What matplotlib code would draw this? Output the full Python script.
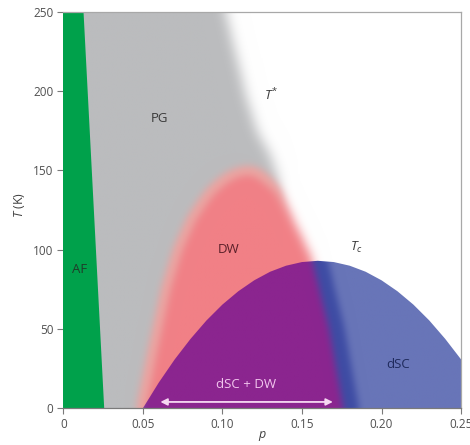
import numpy as np
import matplotlib
matplotlib.use("Agg")
import matplotlib.pyplot as plt
from matplotlib.path import Path
from matplotlib.patches import Polygon

plt.rcParams['font.family'] = ['Open Sans', 'DejaVu Sans']
plt.rcParams['mathtext.fontset'] = 'custom'
plt.rcParams['mathtext.it'] = 'Open Sans:italic'
plt.rcParams['mathtext.rm'] = 'Open Sans'

# ---------------- data ----------------
# AF boundary (straight line)
af_T = [0, 250]
af_p = [0.0254, 0.0124]

# T* crossover (pseudogap edge), from top to bottom
tstar_T = [250, 194, 173, 160, 145, 130, 0]
tstar_p = [0.102, 0.1157, 0.1225, 0.130, 0.135, 0.136, 0.136]

# density-wave dome, left edge (bottom -> top) and right edge (top -> bottom)
dw_left_T = [0, 40, 75, 100, 120, 136, 144, 148, 150]
dw_left_p = [0.049, 0.057, 0.0645, 0.072, 0.081, 0.092, 0.101, 0.108, 0.116]
dw_right_T = [148, 144, 137, 110, 95, 50, 0]
dw_right_p = [0.123, 0.128, 0.136, 0.149, 0.156, 0.167, 0.176]

# superconducting dome Tc(p)
tc_p = [0.05, 0.06, 0.07, 0.08, 0.09, 0.10, 0.11, 0.12, 0.13, 0.14, 0.15,
        0.16, 0.17, 0.18, 0.19, 0.20, 0.21, 0.22, 0.23, 0.24, 0.25]
tc_T = [0, 16.2, 30.8, 43.8, 55.4, 65.4, 73.8, 80.7, 86.1, 89.9, 92.2,
        93, 92.2, 89.9, 86.1, 80.7, 73.8, 65.4, 55.4, 43.8, 30.8]

x_ticks = [0, 0.05, 0.10, 0.15, 0.20, 0.25]
x_labels = ['0', '0.05', '0.10', '0.15', '0.20', '0.25']
y_ticks = [0, 50, 100, 150, 200, 250]
y_labels = ['0', '50', '100', '150', '200', '250']

labels = [("AF", 0.0102, 87.8), ("PG", 0.0603, 183), ("DW", 0.1042, 100),
          ("dSC", 0.2102, 27.3)]
label_colors = ["#1f3d2a", "#3a3a3a", "#5a2029", "#1f2a5c"]

arrow_p = [0.061, 0.1694]
arrow_T = 4

# ---------------- colours ----------------
c_white = np.array([1.0, 1.0, 1.0])
c_gray = np.array([187, 188, 190]) / 255
c_red = np.array([241, 128, 134]) / 255
c_hi = np.array([250, 168, 160]) / 255
c_purple = np.array([139, 37, 143]) / 255
c_dark = np.array([62, 76, 164]) / 255
c_blue = np.array([104, 117, 184]) / 255
c_green = '#00a14b'

# ---------------- raster helpers ----------------
P0, P1, T0, T1 = -0.03, 0.28, -30.0, 280.0
NX, NY = 480, 480
pp = np.linspace(P0, P1, NX)
tt = np.linspace(T0, T1, NY)
PP, TT = np.meshgrid(pp, tt)
pts = np.column_stack([PP.ravel(), TT.ravel()])


def mask_of(verts):
    return Path(verts).contains_points(pts).reshape(NY, NX).astype(float)


def blur(a, s):
    r = int(3 * s) + 1
    x = np.arange(-r, r + 1)
    k = np.exp(-x ** 2 / (2 * s * s))
    k /= k.sum()
    a = np.apply_along_axis(lambda v: np.convolve(v, k, mode='same'), 0, a)
    a = np.apply_along_axis(lambda v: np.convolve(v, k, mode='same'), 1, a)
    return a


# gray (pseudogap) region
g_verts = ([(-0.1, 400), (tstar_p[0], 400)] +
           list(zip(tstar_p, tstar_T)) +
           [(tstar_p[-1], -100), (-0.1, -100)])
g = blur(mask_of(g_verts), 6.0)


def dw_verts(shift=0.0):
    left = list(zip(dw_left_p, dw_left_T))
    right = [(p + shift, t) for p, t in zip(dw_right_p, dw_right_T)]
    return ([(dw_left_p[0], -100)] + left + right +
            [(dw_right_p[-1] + shift, -100)])


r = blur(mask_of(dw_verts()), 5.0)

img = np.ones((NY, NX, 3)) * c_white
img = img * (1 - g[..., None]) + c_gray * g[..., None]
img = img * (1 - r[..., None]) + c_red * r[..., None]
h = np.clip(4 * r * (1 - r) * g * 0.5, 0, 1)
img = img * (1 - h[..., None]) + c_hi * h[..., None]

# superconducting dome colouring
r1 = blur(mask_of(dw_verts()), 3.5)
r2 = blur(mask_of(dw_verts(0.010)), 3.5)
r2 = np.maximum(r2, r1)
sc = (c_purple * r1[..., None] + c_dark * (r2 - r1)[..., None] +
      c_blue * (1 - r2)[..., None])

# ---------------- figure ----------------
fig = plt.figure(figsize=(4.7, 4.45), dpi=100)
ax = fig.add_axes([0.1347, 0.0825, 0.8463, 0.891])

ax.imshow(np.clip(img, 0, 1), extent=[P0, P1, T0, T1], origin='lower',
          aspect='auto', interpolation='bilinear', zorder=1)

im_sc = ax.imshow(np.clip(sc, 0, 1), extent=[P0, P1, T0, T1], origin='lower',
                  aspect='auto', interpolation='bilinear', zorder=2)
dome = Polygon(np.column_stack([np.r_[tc_p, tc_p[::-1]],
                                np.r_[tc_T, np.zeros(len(tc_T))]]),
               closed=True, facecolor='none', edgecolor='none',
               transform=ax.transData)
ax.add_patch(dome)
im_sc.set_clip_path(dome)

ax.fill_betweenx(af_T, [-0.01, -0.01], af_p, color=c_green, lw=0, zorder=3)

# labels
for (txt, x, y), col in zip(labels, label_colors):
    ax.text(x, y, txt, ha='center', va='center', fontsize=9.5, color=col,
            zorder=5)
ax.text(0.1306, 197.5, r'$T^{*}$', ha='center', va='center', fontsize=9.5,
        color='#3a3a3a', zorder=5)
ax.text(0.184, 101.7, r'$T_c$', ha='center', va='center', fontsize=9.5,
        color='#3a3a3a', zorder=5)
ax.text(0.1147, 14.7, 'dSC + DW', ha='center', va='center', fontsize=9.5,
        color='#f2c6ee', zorder=5)
ax.annotate('', xy=(arrow_p[0], arrow_T), xytext=(arrow_p[1], arrow_T),
            arrowprops=dict(arrowstyle='<|-|>', color='#f6d8f2', lw=1.3,
                            mutation_scale=10, shrinkA=0, shrinkB=0),
            zorder=6)

ax.set_xlim(0, 0.25)
ax.set_ylim(0, 250)
ax.set_xticks(x_ticks)
ax.set_xticklabels(x_labels)
ax.set_yticks(y_ticks)
ax.set_yticklabels(y_labels)
ax.tick_params(direction='out', length=4, width=0.8, color='#7a7a7a',
               labelcolor='#505050', labelsize=8.5, pad=3)

for s in ['top', 'right']:
    ax.spines[s].set_color('#a8a8a8')
    ax.spines[s].set_linewidth(0.9)
ax.spines['bottom'].set_color('#7a7a7a')
ax.spines['bottom'].set_linewidth(0.9)
ax.spines['left'].set_visible(False)
for s in ax.spines.values():
    s.set_zorder(10)

ax.set_ylabel(r'$T$ (K)', fontsize=9, color='#404040')
ax.yaxis.set_label_coords(-0.092, 0.513)
ax.set_xlabel(r'$p$', fontsize=9, color='#404040')
ax.xaxis.set_label_coords(0.5, -0.052)

fig.savefig('out.png', dpi=100)
